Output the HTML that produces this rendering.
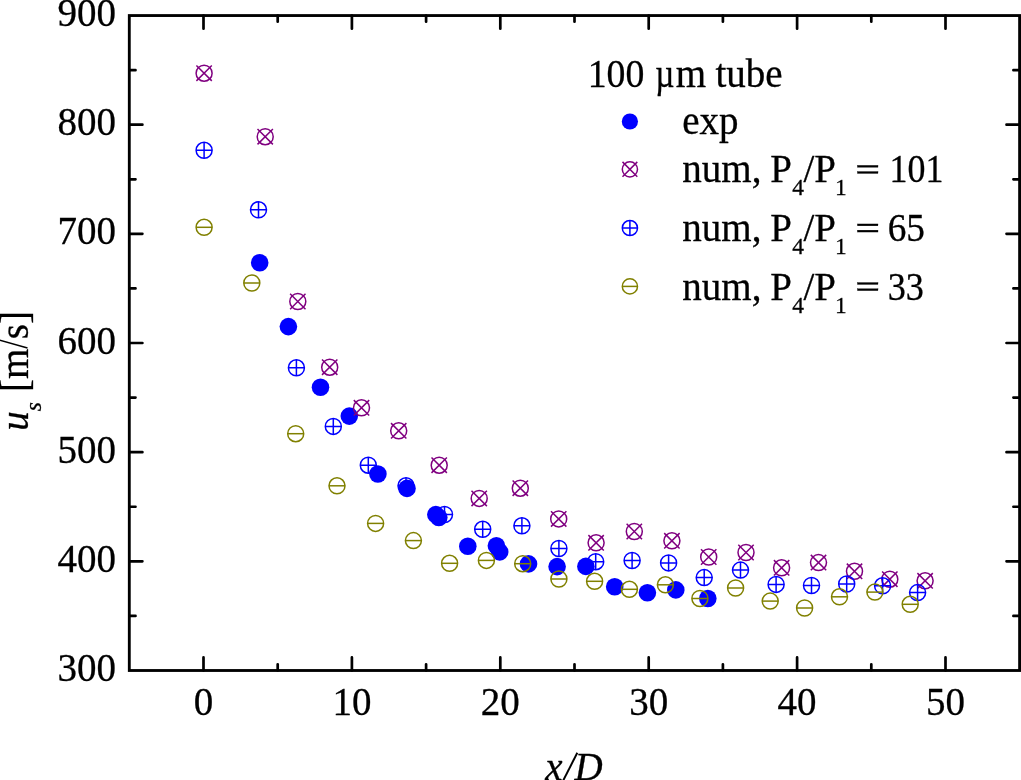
<!DOCTYPE html><html><head><meta charset="utf-8"><style>html,body{margin:0;padding:0;background:#fff;overflow:hidden}svg{display:block;will-change:transform}</style></head><body><svg width="1021" height="780" viewBox="0 0 1021 780">
<rect width="1021" height="780" fill="#fff"/>
<g fill="none" stroke="#000" stroke-width="2.7" stroke-linecap="round"><path d="M203.50 670.5V657.4M203.50 15.55V28.65M277.70 670.5V664.3M277.70 15.55V21.75M351.90 670.5V657.4M351.90 15.55V28.65M426.10 670.5V664.3M426.10 15.55V21.75M500.30 670.5V657.4M500.30 15.55V28.65M574.50 670.5V664.3M574.50 15.55V21.75M648.70 670.5V657.4M648.70 15.55V28.65M722.90 670.5V664.3M722.90 15.55V21.75M797.10 670.5V657.4M797.10 15.55V28.65M871.30 670.5V664.3M871.30 15.55V21.75M945.50 670.5V657.4M945.50 15.55V28.65M129.3 615.92H135.5M1019.6 615.92H1013.4M129.3 561.34H142.4M1019.6 561.34H1006.5M129.3 506.76H135.5M1019.6 506.76H1013.4M129.3 452.18H142.4M1019.6 452.18H1006.5M129.3 397.60H135.5M1019.6 397.60H1013.4M129.3 343.02H142.4M1019.6 343.02H1006.5M129.3 288.45H135.5M1019.6 288.45H1013.4M129.3 233.87H142.4M1019.6 233.87H1006.5M129.3 179.29H135.5M1019.6 179.29H1013.4M129.3 124.71H142.4M1019.6 124.71H1006.5M129.3 70.13H135.5M1019.6 70.13H1013.4"/></g>
<rect x="129.3" y="15.55" width="890.3" height="654.95" fill="none" stroke="#000" stroke-width="2.85" stroke-linejoin="miter"/>
<g font-family="'Liberation Serif', serif" font-size="39" fill="#000" stroke="#000" stroke-width="0.3"><text x="116.0" y="681.10" text-anchor="end">300</text><text x="116.0" y="571.94" text-anchor="end">400</text><text x="116.0" y="462.78" text-anchor="end">500</text><text x="116.0" y="353.62" text-anchor="end">600</text><text x="116.0" y="244.47" text-anchor="end">700</text><text x="116.0" y="135.31" text-anchor="end">800</text><text x="116.0" y="26.15" text-anchor="end">900</text><text x="203.50" y="714.5" text-anchor="middle">0</text><text x="351.90" y="714.5" text-anchor="middle">10</text><text x="500.30" y="714.5" text-anchor="middle">20</text><text x="648.70" y="714.5" text-anchor="middle">30</text><text x="797.10" y="714.5" text-anchor="middle">40</text><text x="945.50" y="714.5" text-anchor="middle">50</text></g>
<g fill="#0000FF"><circle cx="259.7" cy="262.8" r="8.8"/><circle cx="288.4" cy="326.6" r="8.8"/><circle cx="320.5" cy="387.3" r="8.8"/><circle cx="349.3" cy="416.1" r="8.8"/><circle cx="377.9" cy="474" r="8.8"/><circle cx="407.0" cy="488.4" r="8.8"/><circle cx="435.8" cy="514.6" r="8.8"/><circle cx="438.8" cy="517.5" r="8.8"/><circle cx="467.8" cy="546.3" r="8.8"/><circle cx="496.4" cy="545.8" r="8.8"/><circle cx="499.7" cy="551.9" r="8.8"/><circle cx="528.5" cy="563.9" r="8.8"/><circle cx="557.1" cy="566.6" r="8.8"/><circle cx="585.9" cy="566.4" r="8.8"/><circle cx="614.7" cy="586.8" r="8.8"/><circle cx="647.4" cy="592.7" r="8.8"/><circle cx="675.8" cy="589.9" r="8.8"/><circle cx="707.8" cy="598.5" r="8.8"/></g>
<g fill="none" stroke="#800080" stroke-width="1.5"><circle cx="204.1" cy="73.2" r="8.0"/><path d="M196.40 65.50L211.80 80.90M211.80 65.50L196.40 80.90"/><circle cx="265.2" cy="136.7" r="8.0"/><path d="M257.50 129.00L272.90 144.40M272.90 129.00L257.50 144.40"/><circle cx="297.8" cy="301.5" r="8.0"/><path d="M290.10 293.80L305.50 309.20M305.50 293.80L290.10 309.20"/><circle cx="329.7" cy="367.2" r="8.0"/><path d="M322.00 359.50L337.40 374.90M337.40 359.50L322.00 374.90"/><circle cx="361.5" cy="407.8" r="8.0"/><path d="M353.80 400.10L369.20 415.50M369.20 400.10L353.80 415.50"/><circle cx="398.7" cy="430.8" r="8.0"/><path d="M391.00 423.10L406.40 438.50M406.40 423.10L391.00 438.50"/><circle cx="439.2" cy="465.2" r="8.0"/><path d="M431.50 457.50L446.90 472.90M446.90 457.50L431.50 472.90"/><circle cx="479.2" cy="498.4" r="8.0"/><path d="M471.50 490.70L486.90 506.10M486.90 490.70L471.50 506.10"/><circle cx="520.3" cy="488.2" r="8.0"/><path d="M512.60 480.50L528.00 495.90M528.00 480.50L512.60 495.90"/><circle cx="558.7" cy="518.9" r="8.0"/><path d="M551.00 511.20L566.40 526.60M566.40 511.20L551.00 526.60"/><circle cx="596.1" cy="542.8" r="8.0"/><path d="M588.40 535.10L603.80 550.50M603.80 535.10L588.40 550.50"/><circle cx="634.3" cy="531.5" r="8.0"/><path d="M626.60 523.80L642.00 539.20M642.00 523.80L626.60 539.20"/><circle cx="671.9" cy="540.8" r="8.0"/><path d="M664.20 533.10L679.60 548.50M679.60 533.10L664.20 548.50"/><circle cx="708.7" cy="557" r="8.0"/><path d="M701.00 549.30L716.40 564.70M716.40 549.30L701.00 564.70"/><circle cx="746" cy="552.5" r="8.0"/><path d="M738.30 544.80L753.70 560.20M753.70 544.80L738.30 560.20"/><circle cx="781.6" cy="567.8" r="8.0"/><path d="M773.90 560.10L789.30 575.50M789.30 560.10L773.90 575.50"/><circle cx="818.5" cy="562.6" r="8.0"/><path d="M810.80 554.90L826.20 570.30M826.20 554.90L810.80 570.30"/><circle cx="854.5" cy="571.3" r="8.0"/><path d="M846.80 563.60L862.20 579.00M862.20 563.60L846.80 579.00"/><circle cx="889.8" cy="579.2" r="8.0"/><path d="M882.10 571.50L897.50 586.90M897.50 571.50L882.10 586.90"/><circle cx="925.1" cy="580.8" r="8.0"/><path d="M917.40 573.10L932.80 588.50M932.80 573.10L917.40 588.50"/></g>
<g fill="none" stroke="#0000FF" stroke-width="1.5"><circle cx="204.1" cy="150.3" r="8.0"/><path d="M196.10 150.3H212.10M204.1 142.30V158.30"/><circle cx="258.5" cy="209.8" r="8.0"/><path d="M250.50 209.8H266.50M258.5 201.80V217.80"/><circle cx="296.4" cy="367.8" r="8.0"/><path d="M288.40 367.8H304.40M296.4 359.80V375.80"/><circle cx="333.3" cy="426.4" r="8.0"/><path d="M325.30 426.4H341.30M333.3 418.40V434.40"/><circle cx="368.3" cy="465.2" r="8.0"/><path d="M360.30 465.2H376.30M368.3 457.20V473.20"/><circle cx="406" cy="485.8" r="8.0"/><path d="M398.00 485.8H414.00M406 477.80V493.80"/><circle cx="444.5" cy="514.5" r="8.0"/><path d="M436.50 514.5H452.50M444.5 506.50V522.50"/><circle cx="482.7" cy="529.3" r="8.0"/><path d="M474.70 529.3H490.70M482.7 521.30V537.30"/><circle cx="521.9" cy="525.8" r="8.0"/><path d="M513.90 525.8H529.90M521.9 517.80V533.80"/><circle cx="558.9" cy="548.5" r="8.0"/><path d="M550.90 548.5H566.90M558.9 540.50V556.50"/><circle cx="595.7" cy="561.7" r="8.0"/><path d="M587.70 561.7H603.70M595.7 553.70V569.70"/><circle cx="632.1" cy="560.5" r="8.0"/><path d="M624.10 560.5H640.10M632.1 552.50V568.50"/><circle cx="668.6" cy="562.9" r="8.0"/><path d="M660.60 562.9H676.60M668.6 554.90V570.90"/><circle cx="704.2" cy="577.6" r="8.0"/><path d="M696.20 577.6H712.20M704.2 569.60V585.60"/><circle cx="740.5" cy="570.1" r="8.0"/><path d="M732.50 570.1H748.50M740.5 562.10V578.10"/><circle cx="776.1" cy="584.4" r="8.0"/><path d="M768.10 584.4H784.10M776.1 576.40V592.40"/><circle cx="811.5" cy="585.5" r="8.0"/><path d="M803.50 585.5H819.50M811.5 577.50V593.50"/><circle cx="846.7" cy="584" r="8.0"/><path d="M838.70 584H854.70M846.7 576.00V592.00"/><circle cx="882.6" cy="585.8" r="8.0"/><path d="M874.60 585.8H890.60M882.6 577.80V593.80"/><circle cx="917.6" cy="592.6" r="8.0"/><path d="M909.60 592.6H925.60M917.6 584.60V600.60"/></g>
<g fill="none" stroke="#808000" stroke-width="1.5"><circle cx="204.1" cy="227.3" r="8.0"/><path d="M196.10 227.3H212.10"/><circle cx="251.8" cy="283" r="8.0"/><path d="M243.80 283H259.80"/><circle cx="295.7" cy="433.7" r="8.0"/><path d="M287.70 433.7H303.70"/><circle cx="337" cy="485.8" r="8.0"/><path d="M329.00 485.8H345.00"/><circle cx="375.6" cy="523.4" r="8.0"/><path d="M367.60 523.4H383.60"/><circle cx="413.4" cy="540.6" r="8.0"/><path d="M405.40 540.6H421.40"/><circle cx="449.6" cy="563.3" r="8.0"/><path d="M441.60 563.3H457.60"/><circle cx="486.4" cy="560.4" r="8.0"/><path d="M478.40 560.4H494.40"/><circle cx="522.7" cy="563.7" r="8.0"/><path d="M514.70 563.7H530.70"/><circle cx="558.9" cy="579" r="8.0"/><path d="M550.90 579H566.90"/><circle cx="594.6" cy="581.3" r="8.0"/><path d="M586.60 581.3H602.60"/><circle cx="629.4" cy="589.3" r="8.0"/><path d="M621.40 589.3H637.40"/><circle cx="665.4" cy="584.8" r="8.0"/><path d="M657.40 584.8H673.40"/><circle cx="699.9" cy="598.5" r="8.0"/><path d="M691.90 598.5H707.90"/><circle cx="735.6" cy="588" r="8.0"/><path d="M727.60 588H743.60"/><circle cx="770.2" cy="601.1" r="8.0"/><path d="M762.20 601.1H778.20"/><circle cx="804.6" cy="608" r="8.0"/><path d="M796.60 608H812.60"/><circle cx="839.5" cy="596.8" r="8.0"/><path d="M831.50 596.8H847.50"/><circle cx="874.9" cy="592.1" r="8.0"/><path d="M866.90 592.1H882.90"/><circle cx="910.2" cy="604.3" r="8.0"/><path d="M902.20 604.3H918.20"/></g>
<g font-family="'Liberation Serif', serif" font-size="39" fill="#000" stroke="#000" stroke-width="0.3"><text x="587.7" y="86.7" textLength="56.7" lengthAdjust="spacingAndGlyphs">100</text><text x="655.3" y="86.7" textLength="19.1" lengthAdjust="spacingAndGlyphs">µ</text><text x="675.7" y="86.7">m</text><text x="715.5" y="86.7">tube</text><text x="682.3" y="133.7">exp</text><text x="682.3" y="182.3">num,</text><text x="770.3" y="182.3">P</text><text x="792.3" y="195.4" font-size="23.4">4</text><text x="803.6" y="182.3">/</text><text x="814.3" y="182.3">P</text><text x="834.9" y="195.4" font-size="23.4">1</text><rect x="857.4" y="165.35" width="20.6" height="1.9"/><rect x="857.4" y="171.55" width="20.6" height="1.9"/><text x="889.5" y="182.3" textLength="53.9" lengthAdjust="spacingAndGlyphs">101</text><text x="682.3" y="240.9">num,</text><text x="770.3" y="240.9">P</text><text x="792.3" y="254.0" font-size="23.4">4</text><text x="803.6" y="240.9">/</text><text x="814.3" y="240.9">P</text><text x="834.9" y="254.0" font-size="23.4">1</text><rect x="857.4" y="223.95" width="20.6" height="1.9"/><rect x="857.4" y="230.15" width="20.6" height="1.9"/><text x="887.7" y="240.9" textLength="37.3" lengthAdjust="spacingAndGlyphs">65</text><text x="682.3" y="299.5">num,</text><text x="770.3" y="299.5">P</text><text x="792.3" y="312.6" font-size="23.4">4</text><text x="803.6" y="299.5">/</text><text x="814.3" y="299.5">P</text><text x="834.9" y="312.6" font-size="23.4">1</text><rect x="857.4" y="282.55" width="20.6" height="1.9"/><rect x="857.4" y="288.75" width="20.6" height="1.9"/><text x="887.7" y="299.5" textLength="36.2" lengthAdjust="spacingAndGlyphs">33</text></g>
<circle cx="629.9" cy="121.5" r="8.1" fill="#0000FF"/>
<g fill="none" stroke="#800080" stroke-width="1.5"><circle cx="629.9" cy="169.3" r="7.6"/><path d="M622.50 161.90L637.30 176.70M637.30 161.90L622.50 176.70"/></g>
<g fill="none" stroke="#0000FF" stroke-width="1.5"><circle cx="629.9" cy="228.0" r="7.6"/><path d="M622.30 228.0H637.50M629.9 220.40V235.60"/></g>
<g fill="none" stroke="#808000" stroke-width="1.5"><circle cx="629.9" cy="286.4" r="7.6"/><path d="M622.30 286.4H637.50"/></g>
<text font-family="'Liberation Serif', serif" font-size="39" font-style="italic" y="780" stroke="#000" stroke-width="0.3"><tspan x="545.2">x</tspan><tspan x="574.5">D</tspan></text>
<path d="M577.3 752.8L562.7 781.5" stroke="#000" stroke-width="1.95" fill="none"/>
<g transform="rotate(-90)" font-family="'Liberation Serif', serif" font-size="39" stroke="#000" stroke-width="0.3"><text x="-430.8" y="27.5" font-style="italic">u</text><text x="-411.2" y="40.8" font-style="italic" font-size="23.4">s</text><text x="-392.1" y="27.5">[m</text><text x="-339.2" y="27.5">s]</text></g>
<path d="M27.5 348.05L-1 340.0" stroke="#000" stroke-width="1.45" fill="none"/>
</svg></body></html>
